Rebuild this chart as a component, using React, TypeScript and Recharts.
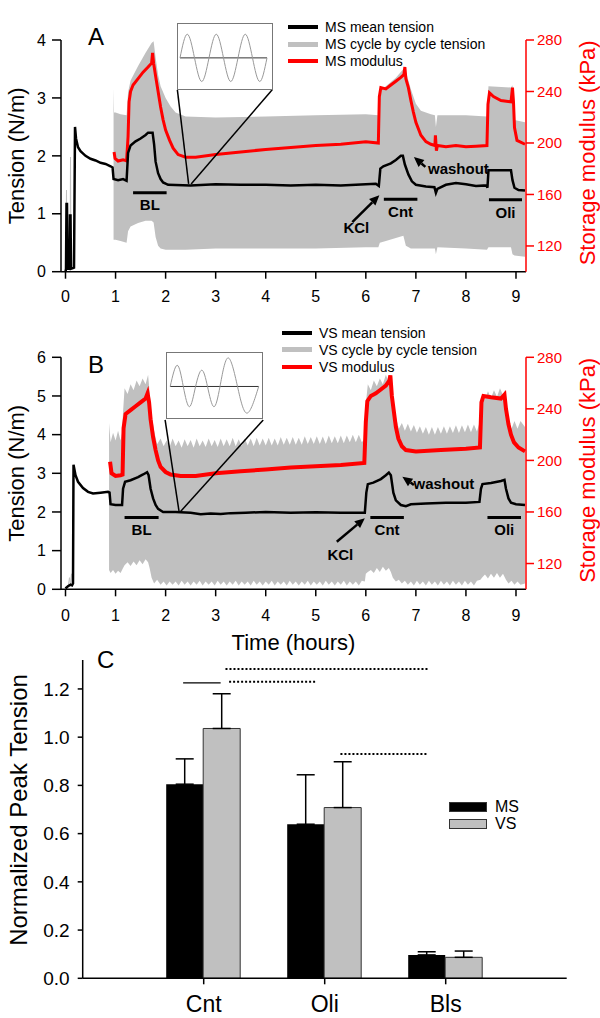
import React from "react";
import {
  ComposedChart,
  LineChart,
  BarChart,
  Line,
  Area,
  Bar,
  XAxis,
  YAxis,
  ReferenceLine,
  ReferenceDot,
  ErrorBar,
  Legend,
} from "recharts";

const FONT = '"Liberation Sans", Arial, Helvetica, sans-serif';
const RED = "#ff0000";
const GREY = "#c0c0c0";

type Pt = [number, number];
type Band = [number, number, number];

// ---------- panel A : MS, time in hours ----------
const msSpikes: Pt[] = [[0, 0], [0.02, 1.41], [0.03, 0.05], [0.09, 0.05], [0.1, 1.98], [0.11, 0.05], [0.17, 0.05]];
const msMean: Pt[] = [
  [0, 0], [0.01, 0.05], [0.02, 1.17], [0.03, 1.17], [0.04, 0.05], [0.08, 0.05], [0.09, 0.97], [0.1, 0.97],
  [0.11, 0.05], [0.17, 0.07], [0.19, 2.5], [0.21, 2.3], [0.25, 2.15], [0.3, 2.08], [0.4, 2.0], [0.5, 1.95],
  [0.6, 1.92], [0.7, 1.88], [0.8, 1.86], [0.9, 1.82], [0.94, 1.8], [0.96, 1.6], [1.05, 1.58], [1.15, 1.6],
  [1.22, 1.57], [1.25, 2.05], [1.3, 2.18], [1.4, 2.25], [1.5, 2.3], [1.6, 2.36], [1.65, 2.4], [1.74, 2.4],
  [1.77, 2.2], [1.8, 1.9], [1.85, 1.7], [1.9, 1.6], [1.95, 1.54], [2.05, 1.5], [2.5, 1.49], [3, 1.51],
  [3.5, 1.5], [4, 1.5], [4.5, 1.49], [5, 1.5], [5.5, 1.49], [6, 1.51], [6.2, 1.52], [6.26, 1.48], [6.29, 1.78],
  [6.35, 1.82], [6.5, 1.87], [6.6, 1.93], [6.7, 2.0], [6.74, 2.0], [6.78, 1.85], [6.85, 1.68], [6.92, 1.56],
  [7.0, 1.5], [7.2, 1.47], [7.37, 1.46], [7.4, 1.36], [7.43, 1.43], [7.6, 1.5], [7.8, 1.53], [8.0, 1.51],
  [8.2, 1.48], [8.41, 1.49], [8.43, 1.45], [8.45, 1.75], [8.6, 1.75], [8.9, 1.75], [8.93, 1.58], [8.97, 1.45],
  [9.05, 1.41], [9.18, 1.4],
];
const msBand: Band[] = [
  [0.96, 0.55, 3.17], [0.97, 0.55, 2.75], [1.0, 0.55, 2.75], [1.1, 0.53, 2.72], [1.22, 0.5, 2.7],
  [1.25, 0.7, 3.1], [1.3, 0.78, 3.3], [1.45, 0.84, 3.55], [1.6, 0.88, 3.78], [1.72, 0.88, 3.95],
  [1.76, 0.85, 3.98], [1.8, 0.6, 3.7], [1.85, 0.45, 3.4], [1.9, 0.4, 3.2], [2.0, 0.38, 3.0],
  [2.1, 0.38, 2.85], [2.2, 0.38, 2.75], [2.4, 0.38, 2.68], [3, 0.4, 2.66], [4, 0.4, 2.68], [5, 0.4, 2.7],
  [6, 0.42, 2.72], [6.25, 0.42, 2.7], [6.28, 0.5, 3.15], [6.4, 0.53, 3.2], [6.6, 0.58, 3.35],
  [6.75, 0.62, 3.5], [6.8, 0.45, 3.45], [6.9, 0.4, 3.15], [7.0, 0.4, 2.9], [7.1, 0.4, 2.78],
  [7.3, 0.4, 2.72], [7.38, 0.4, 2.7], [7.4, 0.3, 2.5], [7.43, 0.42, 2.7], [8.0, 0.4, 2.7],
  [8.42, 0.38, 2.68], [8.45, 0.42, 3.2], [8.9, 0.42, 3.18], [8.93, 0.3, 3.22], [8.97, 0.28, 2.62],
  [9.18, 0.26, 2.58],
];
const msModulus: Pt[] = [
  [0.97, 193], [0.99, 188], [1.05, 186], [1.15, 187], [1.22, 186], [1.25, 205], [1.27, 232], [1.3, 240],
  [1.35, 245], [1.45, 250], [1.55, 255], [1.65, 259], [1.72, 262], [1.74, 270], [1.76, 262], [1.8, 252],
  [1.85, 240], [1.9, 228], [1.95, 218], [2.0, 210], [2.08, 202], [2.15, 196], [2.25, 191], [2.4, 189],
  [2.6, 189], [3.0, 191], [3.5, 193], [4.0, 195], [4.5, 196.5], [5.0, 198], [5.5, 199], [6.0, 201],
  [6.25, 200], [6.27, 236], [6.3, 243], [6.4, 242], [6.5, 245], [6.6, 248], [6.7, 251], [6.76, 253],
  [6.78, 259], [6.8, 250], [6.85, 243], [6.9, 233], [6.95, 224], [7.0, 216], [7.1, 206], [7.2, 201],
  [7.3, 199], [7.38, 198], [7.39, 206], [7.41, 194], [7.43, 198], [7.6, 197], [7.8, 198], [8.0, 197],
  [8.2, 197.5], [8.42, 198], [8.44, 230], [8.47, 239], [8.55, 236], [8.7, 233], [8.9, 232], [8.93, 243],
  [8.95, 232], [8.97, 212], [9.02, 202], [9.18, 199],
];

// ---------- panel B : VS ----------
const vsSpikes: Pt[] = [[0.05, 0.05], [0.08, 0.3], [0.1, 0.1], [0.12, 0.4], [0.14, 0.15]];
const vsMean: Pt[] = [
  [0, 0.02], [0.05, 0.08], [0.1, 0.12], [0.13, 0.1], [0.15, 0.15], [0.16, 3.22], [0.2, 2.95], [0.25, 2.78],
  [0.35, 2.62], [0.45, 2.52], [0.55, 2.48], [0.7, 2.5], [0.85, 2.52], [0.88, 2.5], [0.9, 2.2], [1.0, 2.18],
  [1.13, 2.18], [1.15, 2.6], [1.19, 2.78], [1.3, 2.82], [1.45, 2.9], [1.55, 2.97], [1.63, 3.03], [1.66, 2.95],
  [1.7, 2.6], [1.75, 2.35], [1.8, 2.18], [1.85, 2.08], [1.95, 2.0], [2.2, 2.0], [2.5, 1.98], [2.7, 1.94],
  [2.9, 1.96], [3.1, 1.95], [3.3, 1.97], [3.6, 1.98], [4.0, 2.0], [4.5, 1.98], [5.0, 1.99], [5.5, 1.98],
  [5.98, 1.98], [6.01, 2.5], [6.04, 2.72], [6.15, 2.76], [6.3, 2.85], [6.4, 2.95], [6.46, 3.02], [6.5, 2.95],
  [6.55, 2.5], [6.6, 2.3], [6.7, 2.18], [6.8, 2.15], [6.9, 2.2], [7.2, 2.22], [7.6, 2.24], [8.0, 2.24],
  [8.27, 2.26], [8.3, 2.6], [8.33, 2.72], [8.5, 2.75], [8.7, 2.8], [8.77, 2.83], [8.8, 2.6], [8.85, 2.35],
  [8.9, 2.24], [9.0, 2.2], [9.18, 2.18],
];
const vsBand: Band[] = [
  [0.87, 0.5, 4.3], [0.9, 0.42, 3.8], [0.95, 0.5, 4.05], [1.0, 0.4, 3.85], [1.05, 0.48, 4.1], [1.1, 0.42, 3.85],
  [1.13, 0.5, 4.05], [1.15, 0.55, 4.6], [1.18, 0.62, 5.2], [1.24, 0.7, 5.05], [1.3, 0.6, 5.3], [1.36, 0.72, 5.15],
  [1.42, 0.62, 5.4], [1.48, 0.75, 5.25], [1.54, 0.65, 5.45], [1.6, 0.78, 5.3], [1.65, 0.7, 5.55], [1.68, 0.55, 5.1],
  [1.72, 0.3, 4.5], [1.77, 0.15, 4.1], [1.83, 0.25, 3.75], [1.9, 0.12, 3.9], [1.96, 0.2, 3.7], [2.02, 0.1, 3.85],
  [2.08, 0.2, 3.68], [2.14, 0.12, 3.9], [2.2, 0.2, 3.7], [2.26, 0.1, 3.85], [2.32, 0.22, 3.66], [2.38, 0.12, 3.88],
  [2.44, 0.2, 3.7], [2.5, 0.1, 3.86], [2.56, 0.2, 3.66], [2.62, 0.12, 3.9], [2.68, 0.22, 3.7], [2.74, 0.1, 3.85],
  [2.8, 0.2, 3.68], [2.86, 0.12, 3.9], [2.92, 0.2, 3.7], [2.98, 0.1, 3.86], [3.04, 0.22, 3.68], [3.1, 0.12, 3.9],
  [3.16, 0.2, 3.7], [3.22, 0.1, 3.88], [3.28, 0.2, 3.7], [3.34, 0.12, 3.92], [3.4, 0.22, 3.7], [3.46, 0.1, 3.88],
  [3.52, 0.2, 3.7], [3.58, 0.12, 3.9], [3.64, 0.2, 3.72], [3.7, 0.1, 3.9], [3.76, 0.22, 3.7], [3.82, 0.12, 3.92],
  [3.88, 0.2, 3.72], [3.94, 0.1, 3.9], [4.0, 0.2, 3.72], [4.06, 0.12, 3.92], [4.12, 0.22, 3.72], [4.18, 0.1, 3.9],
  [4.24, 0.2, 3.72], [4.3, 0.12, 3.94], [4.36, 0.2, 3.74], [4.42, 0.1, 3.92], [4.48, 0.22, 3.74], [4.54, 0.12, 3.94],
  [4.6, 0.2, 3.74], [4.66, 0.1, 3.92], [4.72, 0.2, 3.74], [4.78, 0.12, 3.96], [4.84, 0.22, 3.76], [4.9, 0.1, 3.94],
  [4.96, 0.2, 3.76], [5.02, 0.12, 3.96], [5.08, 0.2, 3.76], [5.14, 0.1, 3.95], [5.2, 0.22, 3.76], [5.26, 0.12, 3.98],
  [5.32, 0.2, 3.78], [5.38, 0.1, 3.96], [5.44, 0.2, 3.78], [5.5, 0.12, 3.98], [5.56, 0.22, 3.78], [5.62, 0.1, 3.98],
  [5.68, 0.2, 3.8], [5.74, 0.12, 4.0], [5.8, 0.2, 3.8], [5.86, 0.1, 4.0], [5.92, 0.22, 3.8], [5.98, 0.2, 3.9],
  [6.0, 0.4, 4.8], [6.04, 0.45, 5.3], [6.1, 0.5, 5.15], [6.16, 0.42, 5.4], [6.22, 0.55, 5.25], [6.28, 0.45, 5.45],
  [6.34, 0.58, 5.3], [6.4, 0.48, 5.55], [6.46, 0.55, 5.35], [6.5, 0.45, 5.5], [6.54, 0.3, 4.9], [6.6, 0.2, 4.45],
  [6.66, 0.25, 4.15], [6.72, 0.15, 4.3], [6.78, 0.22, 4.1], [6.84, 0.12, 4.28], [6.9, 0.2, 4.08], [6.96, 0.1, 4.25],
  [7.02, 0.22, 4.05], [7.08, 0.12, 4.22], [7.14, 0.2, 4.02], [7.2, 0.1, 4.2], [7.26, 0.22, 4.0], [7.32, 0.12, 4.2],
  [7.38, 0.2, 4.0], [7.44, 0.1, 4.2], [7.5, 0.22, 4.02], [7.56, 0.12, 4.22], [7.62, 0.2, 4.02], [7.68, 0.1, 4.22],
  [7.74, 0.22, 4.04], [7.8, 0.12, 4.24], [7.86, 0.2, 4.04], [7.92, 0.1, 4.24], [7.98, 0.22, 4.06], [8.04, 0.12, 4.26],
  [8.1, 0.2, 4.06], [8.16, 0.1, 4.26], [8.22, 0.22, 4.08], [8.29, 0.25, 4.4], [8.32, 0.3, 5.0], [8.38, 0.38, 4.9],
  [8.44, 0.28, 5.12], [8.5, 0.4, 4.95], [8.56, 0.3, 5.15], [8.62, 0.42, 4.98], [8.68, 0.3, 5.2], [8.74, 0.4, 5.02],
  [8.78, 0.3, 5.15], [8.8, 0.25, 4.7], [8.85, 0.15, 4.35], [8.91, 0.22, 4.15], [8.97, 0.12, 4.35], [9.03, 0.2, 4.15],
  [9.09, 0.12, 4.35], [9.18, 0.15, 4.2],
];
const vsModulus: Pt[] = [
  [0.89, 199], [0.92, 190], [1.0, 188], [1.1, 188.5], [1.14, 189], [1.16, 225], [1.2, 236], [1.3, 239],
  [1.4, 242], [1.5, 245], [1.6, 248], [1.64, 252], [1.67, 245], [1.7, 232], [1.75, 218], [1.8, 208],
  [1.85, 200], [1.9, 195], [2.0, 191], [2.1, 189], [2.3, 188], [2.6, 188], [3.0, 190], [3.5, 191.5],
  [4.0, 193], [4.5, 194.5], [5.0, 195.5], [5.5, 196.5], [5.97, 198], [6.0, 230], [6.03, 246], [6.1, 250],
  [6.2, 252], [6.3, 255], [6.4, 258], [6.47, 262], [6.49, 266], [6.52, 250], [6.56, 238], [6.6, 226],
  [6.65, 217], [6.72, 211], [6.8, 208], [7.0, 207], [7.5, 208], [8.0, 209], [8.28, 210], [8.31, 245],
  [8.35, 250], [8.5, 249], [8.7, 248], [8.77, 251], [8.8, 240], [8.85, 228], [8.9, 220], [8.96, 214],
  [9.05, 210], [9.18, 207],
];

// zoomed single-cycle insets: [position, deflection]
const msInset: Pt[] = [[2, 0], [9.25, 24], [16.5, 0], [23.75, -24], [31, 0], [38.25, 24], [45.5, 0], [52.75, -24], [60, 0], [67.25, 24], [74.5, 0], [81.75, -24], [89, 0]];
const vsInset: Pt[] = [[3.2, 0], [10.2, 21.7], [16.3, 0], [22.5, -20.7], [28.6, 0], [34.8, 16.7], [40.5, 0], [46.7, -20.7], [53, 0], [61, 29.3], [70.5, 0], [80, -27.3], [91.7, 0]];

const hourTicks = [0, 1, 2, 3, 4, 5, 6, 7, 8, 9];
const modulusTicks = [120, 160, 200, 240, 280];

// ---------- panel C ----------
const groups = ["Cnt", "Oli", "Bls"];
const groupPos = [1, 2, 3];
const msPeak = [0.805, 0.639, 0.097];
const vsPeak = [1.036, 0.708, 0.087];
const msSem = [0.105, 0.205, 0.013];
const vsSem = [0.144, 0.19, 0.026];
const peakTicks = [0, 0.2, 0.4, 0.6, 0.8, 1.0, 1.2];
// [x from, x to, y] on a 0..4 group scale
const sigSolid: Band[] = [[0.83, 1.14, 1.225]];
const sigDotted: Band[] = [[1.18, 2.85, 1.283], [1.21, 1.93, 1.23], [2.13, 2.85, 0.93]];

function buildRows(mean: Pt[], band: Band[], mod: Pt[], spikes: Pt[]) {
  const rows = new Map<number, any>();
  const at = (t: number) => {
    if (!rows.has(t)) rows.set(t, { t });
    return rows.get(t);
  };
  spikes.forEach(([t, v]) => (at(t).spike = v));
  band.forEach(([t, lo, hi]) => (at(t).band = [lo, hi]));
  mod.forEach(([t, v]) => (at(t).mod = v));
  mean.forEach(([t, v]) => (at(t).mean = v));
  return Array.from(rows.values()).sort((a, b) => a.t - b.t);
}

const arrowShape = (p: any) => {
  const { x1, y1, x2, y2 } = p;
  const a = Math.atan2(y2 - y1, x2 - x1);
  const bx = x2 - 10 * Math.cos(a);
  const by = y2 - 10 * Math.sin(a);
  const nx = -Math.sin(a) * 4.5;
  const ny = Math.cos(a) * 4.5;
  return (
    <g>
      <line x1={x1} y1={y1} x2={bx} y2={by} stroke="#000" strokeWidth={2.5} />
      <polygon points={`${x2},${y2} ${bx + nx},${by + ny} ${bx - nx},${by - ny}`} fill="#000" />
    </g>
  );
};

const vTitle = (text: string, x: number, y: number, color: string, size: number) => () => (
  <text
    x={x}
    y={y}
    transform={`rotate(-90 ${x} ${y})`}
    textAnchor="middle"
    dominantBaseline="central"
    fill={color}
    fontSize={size}
    fontFamily={FONT}
  >
    {text}
  </text>
);

function Inset({ left, top, width, height, pts, yTop, yBottom }: any) {
  const data = pts.map(([p, v]: Pt) => ({ p, v }));
  return (
    <div style={{ position: "absolute", left, top, width, height, border: "1px solid #777", boxSizing: "border-box", background: "#fff" }}>
      <LineChart width={width - 2} height={height - 2} data={data} margin={{ top: 0, right: 0, bottom: 0, left: 0 }}>
        <XAxis dataKey="p" type="number" domain={[0, width - 2]} hide />
        <YAxis type="number" domain={[yBottom, yTop]} hide />
        <ReferenceLine segment={[{ x: pts[0][0], y: 0 }, { x: pts[pts.length - 1][0], y: 0 }]} stroke="#333" strokeWidth={1} />
        <Line dataKey="v" type="natural" stroke="#999" strokeWidth={1} dot={false} isAnimationActive={false} />
      </LineChart>
    </div>
  );
}

function TracePanel(cfg: any) {
  const rows = buildRows(cfg.mean, cfg.band, cfg.mod, cfg.spikes);
  const plotH = cfg.plotBottom - cfg.plotTop;
  const midY = cfg.plotTop + plotH / 2;
  const text = { fontFamily: FONT, fill: "#000" };
  return (
    <div style={{ position: "absolute", left: 0, top: cfg.top, width: 600, height: cfg.height }}>
      <ComposedChart
        width={600}
        height={cfg.height}
        data={rows}
        margin={{ top: cfg.plotTop, right: 0, bottom: cfg.height - cfg.plotBottom - cfg.xHeight, left: 0 }}
      >
        <XAxis
          dataKey="t"
          type="number"
          domain={[-0.09, 9.2]}
          ticks={hourTicks}
          allowDataOverflow
          height={cfg.xHeight}
          axisLine={{ stroke: "#000", strokeWidth: 1.5 }}
          tickLine={{ stroke: "#000", strokeWidth: 1.5 }}
          tickSize={7}
          tickMargin={cfg.xTickMargin}
          tick={{ ...text, fontSize: 16 }}
          label={cfg.xTitle ? { value: cfg.xTitle, position: "insideBottom", offset: 1, fontSize: 22, fontFamily: FONT, fill: "#000" } : undefined}
        />
        <YAxis
          yAxisId="T"
          domain={[0, cfg.yMax]}
          ticks={cfg.yTicks}
          allowDataOverflow
          width={61}
          axisLine={{ stroke: "#000", strokeWidth: 1.5 }}
          tickLine={{ stroke: "#000", strokeWidth: 1.5 }}
          tickSize={9}
          tickMargin={6}
          tick={{ ...text, fontSize: 16 }}
          label={{ value: "Tension (N/m)", content: vTitle("Tension (N/m)", 17, midY, "#000", 22) }}
        />
        <YAxis
          yAxisId="M"
          orientation="right"
          domain={[100, 280]}
          ticks={modulusTicks}
          allowDataOverflow
          width={74}
          axisLine={{ stroke: RED, strokeWidth: 1.5 }}
          tickLine={{ stroke: RED, strokeWidth: 1.5 }}
          tickSize={8}
          tickMargin={3}
          tick={{ fontFamily: FONT, fill: RED, fontSize: 15 }}
          label={{ value: "Storage modulus (kPa)", content: vTitle("Storage modulus (kPa)", 588, midY - 3, RED, 22) }}
        />
        <Legend
          layout="vertical"
          align="center"
          verticalAlign="middle"
          wrapperStyle={{ left: cfg.legendX, top: cfg.legendY, width: "auto", height: "auto" }}
          content={() => (
            <div style={{ fontFamily: FONT, fontSize: 14, color: "#000" }}>
              {cfg.legend.map((it: any) => (
                <div key={it.label} style={{ display: "flex", alignItems: "center", height: 17 }}>
                  <span style={{ display: "inline-block", width: 30, height: it.w, background: it.color, marginRight: 7 }} />
                  <span>{it.label}</span>
                </div>
              ))}
            </div>
          )}
        />
        <Area yAxisId="T" dataKey="band" type="linear" stroke="none" fill={GREY} fillOpacity={1} connectNulls isAnimationActive={false} />
        <Line yAxisId="T" dataKey="spike" type="linear" stroke={GREY} strokeWidth={1} dot={false} connectNulls isAnimationActive={false} />
        <Line yAxisId="M" dataKey="mod" type="linear" stroke={RED} strokeWidth={cfg.modWidth} dot={false} connectNulls isAnimationActive={false} />
        <Line yAxisId="T" dataKey="mean" type="linear" stroke="#000" strokeWidth={2.5} dot={false} connectNulls isAnimationActive={false} />
        {cfg.bars.map((b: any) => (
          <ReferenceLine
            key={b.label}
            yAxisId="T"
            segment={[{ x: b.x1, y: b.y }, { x: b.x2, y: b.y }]}
            stroke="#000"
            strokeWidth={3}
            label={{ value: b.label, position: "bottom", offset: 7, fontSize: 15, fontWeight: 700, fontFamily: FONT, fill: "#000" }}
          />
        ))}
        {cfg.arrows.map((a: any, i: number) => (
          <ReferenceLine key={"ar" + i} yAxisId="T" segment={[{ x: a[0], y: a[1] }, { x: a[2], y: a[3] }]} shape={arrowShape} />
        ))}
        {cfg.connectors.map((c: any, i: number) => (
          <ReferenceLine
            key={"cn" + i}
            yAxisId="T"
            segment={[{ x: c[0], y: c[1] }, { x: c[2], y: c[3] }]}
            stroke="#000"
            strokeWidth={1.5}
            ifOverflow="visible"
          />
        ))}
        {cfg.notes.map((n: any) => (
          <ReferenceDot
            key={n.text}
            yAxisId="T"
            x={n.x}
            y={n.y}
            r={0}
            fill="none"
            stroke="none"
            label={{ value: n.text, position: "center", fontSize: 15, fontWeight: 700, fontFamily: FONT, fill: "#000" }}
          />
        ))}
      </ComposedChart>
      <Inset {...cfg.inset} />
    </div>
  );
}

const panelA = {
  top: 0, height: 310, plotTop: 40, plotBottom: 271.7, xHeight: 30, xTickMargin: 12,
  yMax: 4, yTicks: [0, 1, 2, 3, 4], modWidth: 3,
  mean: msMean, band: msBand, mod: msModulus, spikes: msSpikes,
  legendX: 288, legendY: 18.5,
  legend: [
    { label: "MS mean tension", color: "#000", w: 4 },
    { label: "MS cycle by cycle tension", color: GREY, w: 5 },
    { label: "MS modulus", color: RED, w: 4 },
  ],
  bars: [
    { label: "BL", x1: 1.35, x2: 2.02, y: 1.365 },
    { label: "Cnt", x1: 6.36, x2: 7.03, y: 1.25 },
    { label: "Oli", x1: 8.46, x2: 9.12, y: 1.24 },
  ],
  arrows: [[5.73, 0.855, 6.27, 1.32], [7.19, 1.81, 6.96, 1.98]],
  notes: [{ text: "KCl", x: 5.81, y: 0.755 }, { text: "washout", x: 7.85, y: 1.77 }],
  connectors: [[2.235, 3.14, 2.46, 1.515], [4.13, 3.14, 2.51, 1.515]],
  inset: { left: 177, top: 23, width: 96, height: 67, pts: msInset, yTop: 34.4, yBottom: -31.6 },
};

const panelB = {
  top: 310, height: 350, plotTop: 47.3, plotBottom: 279.3, xHeight: 62, xTickMargin: 13,
  yMax: 6, yTicks: [0, 1, 2, 3, 4, 5, 6], modWidth: 4,
  mean: vsMean, band: vsBand, mod: vsModulus, spikes: vsSpikes,
  xTitle: "Time (hours)",
  legendX: 282, legendY: 14,
  legend: [
    { label: "VS mean tension", color: "#000", w: 4 },
    { label: "VS cycle by cycle tension", color: GREY, w: 5 },
    { label: "VS modulus", color: RED, w: 4 },
  ],
  bars: [
    { label: "BL", x1: 1.18, x2: 1.86, y: 1.86 },
    { label: "Cnt", x1: 6.09, x2: 6.76, y: 1.86 },
    { label: "Oli", x1: 8.43, x2: 9.1, y: 1.86 },
  ],
  arrows: [[5.42, 1.23, 5.98, 1.84], [6.96, 2.7, 6.73, 2.91]],
  notes: [{ text: "KCl", x: 5.49, y: 0.887 }, { text: "washout", x: 7.56, y: 2.72 }],
  connectors: [[1.99, 4.38, 2.27, 2.0], [3.95, 4.38, 2.29, 2.0]],
  inset: { left: 166, top: 42, width: 97, height: 67, pts: vsInset, yTop: 34.3, yBottom: -32.3 },
};

function PeakPanel() {
  const rows = groups.map((g, i) => ({
    g,
    pos: groupPos[i],
    ms: msPeak[i],
    vs: vsPeak[i],
    msErr: [0, msSem[i]],
    vsErr: [0, vsSem[i]],
  }));
  return (
    <div style={{ position: "absolute", left: 0, top: 640, width: 600, height: 378 }}>
      <BarChart width={600} height={378} data={rows} barGap={0} margin={{ top: 20, right: 33.3, bottom: 0, left: 0 }}>
        <XAxis
          xAxisId="cat"
          dataKey="g"
          padding={{ left: 60.5, right: 60.5 }}
          height={39.7}
          axisLine={{ stroke: "#000", strokeWidth: 1.5 }}
          tickLine={{ stroke: "#000", strokeWidth: 1.5 }}
          tickSize={6}
          tickMargin={11}
          tick={{ fontFamily: FONT, fill: "#000", fontSize: 23 }}
        />
        <XAxis xAxisId="num" dataKey="pos" type="number" domain={[0, 4]} allowDataOverflow hide />
        <YAxis
          domain={[0, 1.32]}
          ticks={peakTicks}
          allowDataOverflow
          width={82.7}
          tickFormatter={(v: number) => v.toFixed(1)}
          axisLine={{ stroke: "#000", strokeWidth: 1.5 }}
          tickLine={{ stroke: "#000", strokeWidth: 1.5 }}
          tickSize={5}
          tickMargin={8}
          tick={{ fontFamily: FONT, fill: "#000", fontSize: 19 }}
          label={{ value: "Normalized Peak Tension", content: vTitle("Normalized Peak Tension", 18, 170, "#000", 24) }}
        />
        <Legend
          layout="vertical"
          align="center"
          verticalAlign="middle"
          wrapperStyle={{ left: 449, top: 158, width: "auto", height: "auto" }}
          content={() => (
            <div style={{ fontFamily: FONT, fontSize: 16, color: "#000" }}>
              {[
                { label: "MS", fill: "#000" },
                { label: "VS", fill: GREY },
              ].map((it) => (
                <div key={it.label} style={{ display: "flex", alignItems: "center", height: 17 }}>
                  <span style={{ display: "inline-block", width: 38, height: 10, background: it.fill, border: "1px solid #333", boxSizing: "border-box", marginRight: 8 }} />
                  <span>{it.label}</span>
                </div>
              ))}
            </div>
          )}
        />
        <Bar xAxisId="cat" dataKey="ms" fill="#000" barSize={37} isAnimationActive={false}>
          <ErrorBar dataKey="msErr" width={9} stroke="#000" strokeWidth={1.5} direction="y" />
        </Bar>
        <Bar xAxisId="cat" dataKey="vs" fill={GREY} stroke="#333" strokeWidth={1} barSize={37} isAnimationActive={false}>
          <ErrorBar dataKey="vsErr" width={9} stroke="#000" strokeWidth={1.5} direction="y" />
        </Bar>
        {sigSolid.map(([a, b, y], i) => (
          <ReferenceLine key={"s" + i} xAxisId="num" segment={[{ x: a, y }, { x: b, y }]} stroke="#000" strokeWidth={1.2} />
        ))}
        {sigDotted.map(([a, b, y], i) => (
          <ReferenceLine key={"d" + i} xAxisId="num" segment={[{ x: a, y }, { x: b, y }]} stroke="#000" strokeWidth={2} strokeDasharray="2 2" />
        ))}
      </BarChart>
    </div>
  );
}

export default function App() {
  return (
    <div style={{ position: "absolute", left: 0, top: 0, width: 600, height: 1018, background: "#fff", overflow: "hidden" }}>
      <TracePanel {...panelA} />
      <TracePanel {...panelB} />
      <PeakPanel />
      <svg width={600} height={1018} style={{ position: "absolute", left: 0, top: 0, pointerEvents: "none" }}>
        <text x={88} y={45} fontFamily={FONT} fontSize={24} fill="#000">A</text>
        <text x={88} y={373} fontFamily={FONT} fontSize={24} fill="#000">B</text>
        <text x={97} y={668} fontFamily={FONT} fontSize={24} fill="#000">C</text>
      </svg>
    </div>
  );
}
